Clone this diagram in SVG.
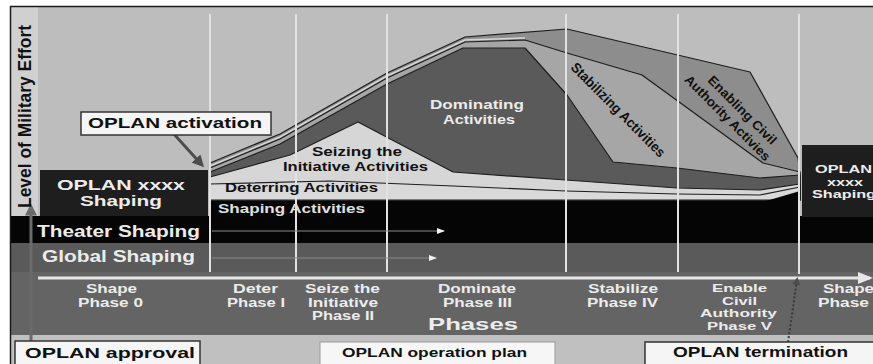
<svg xmlns="http://www.w3.org/2000/svg" width="873" height="364" viewBox="0 0 873 364">
<style>
.t{font-family:"Liberation Sans",Arial,sans-serif;font-weight:bold}
.w{fill:#ececec}
.k{fill:#111111}
.ph{font-size:12px}
.vl{stroke:#e2e2e2;stroke-width:2}
.ly{stroke:#1e1e1e;stroke-width:1.2;stroke-linejoin:round}
.box{fill:#f5f5f5;stroke:#333333;stroke-width:1.5}
</style>
<defs>
<marker id="ahd" markerWidth="4" markerHeight="4" refX="2.5" refY="2" orient="auto" markerUnits="strokeWidth"><path d="M0,0 L4,2 L0,4 z" fill="#4d4d4d"/></marker>
<marker id="ahg" markerWidth="4" markerHeight="4" refX="2.5" refY="2" orient="auto" markerUnits="strokeWidth"><path d="M0,0 L4,2 L0,4 z" fill="#6a6a6a"/></marker>
<marker id="ahw" markerWidth="8" markerHeight="6" refX="7" refY="3" orient="auto" markerUnits="userSpaceOnUse"><path d="M0,0 L8,3 L0,6 z" fill="#f2f2f2"/></marker>
<marker id="ahb" markerWidth="5" markerHeight="4" refX="4" refY="2" orient="auto" markerUnits="strokeWidth"><path d="M0,0 L5,2 L0,4 z" fill="#e6e6e6"/></marker>
</defs>

<!-- background -->
<rect x="0" y="0" width="873" height="364" fill="#ffffff"/>
<rect x="10" y="6" width="863" height="358" fill="#bdbdbd"/>
<rect x="11" y="7" width="27" height="209" fill="#d0d0d0"/>
<rect x="10" y="216" width="863" height="27" fill="#050505"/>
<rect x="10" y="243" width="863" height="29" fill="#5a5a5a"/>
<rect x="10" y="272" width="863" height="63" fill="#646464"/>
<rect x="10" y="335" width="863" height="29" fill="#c0c0c0"/>
<line x1="10" y1="6.5" x2="873" y2="6.5" stroke="#1a1a1a" stroke-width="1.5"/>
<line x1="10.5" y1="6" x2="10.5" y2="364" stroke="#1a1a1a" stroke-width="1.5"/>

<!-- chart layers -->
<g id="chart">
<polygon class="ly" fill="#8d8d8d" points="210,163 280,134 387,73 465,37 567,29 750,72 798,158 800,175 800,200 210,200"/>
<polyline fill="none" stroke="#d6d6d6" stroke-width="1.5" points="210,166 280,137 387,76 465,40 525,38"/>
<polygon class="ly" fill="#a6a6a6" points="210,168 280,139 387,78 465,42 525,40 567,53 642,75 763,163 800,172 800,200 210,200"/>
<polygon class="ly" fill="#5a5a5a" points="210,172 280,144 387,84 463,48 525,48 567,95 613,162 677,168 760,178 800,175 800,200 210,200"/>
<polygon class="ly" fill="#d6d6d6" points="210,177 290,155 358,122 453,172 566,180 677,188 760,190 800,184 800,200 210,200"/>
<polygon class="ly" fill="#d9d9d9" points="210,184 330,181 453,186 566,191 677,194 760,195 800,187 800,200 210,200"/>
<polygon fill="#050505" points="210,201 766,201 800,191 800,216 210,216"/>
</g>

<!-- vertical phase lines -->
<g id="phase-lines">
<line class="vl" x1="210" y1="14" x2="210" y2="272"/>
<line class="vl" x1="296" y1="14" x2="296" y2="272"/>
<line class="vl" x1="387" y1="14" x2="387" y2="272"/>
<line class="vl" x1="566" y1="14" x2="566" y2="272"/>
<line class="vl" x1="678" y1="14" x2="678" y2="272"/>
<line class="vl" x1="799" y1="14" x2="799" y2="274"/>
</g>

<!-- connectors -->
<g id="connectors">
<line x1="212" y1="231" x2="444" y2="231" stroke="#8a8a8a" stroke-width="1" marker-end="url(#ahw)"/>
<line x1="212" y1="258" x2="436" y2="258" stroke="#8a8a8a" stroke-width="1" marker-end="url(#ahw)"/>
<line x1="38" y1="278" x2="870" y2="278" stroke="#e6e6e6" stroke-width="3" marker-end="url(#ahb)"/>
<line x1="173" y1="133" x2="201" y2="164" stroke="#4d4d4d" stroke-width="3" marker-end="url(#ahd)"/>
<line x1="31" y1="343" x2="31" y2="208" stroke="#6a6a6a" stroke-width="3" marker-end="url(#ahg)"/>
<line x1="788" y1="342" x2="797" y2="280" stroke="#3a3a3a" stroke-width="2" stroke-dasharray="2,2" marker-end="url(#ahd)"/>
</g>

<!-- axis -->
<g id="axis-label">
<text class="t k" font-size="18" transform="translate(31,208) rotate(-90)" textLength="183" lengthAdjust="spacingAndGlyphs">Level of Military Effort</text>
</g>

<g id="oplan-activation">
<rect class="box" x="81" y="112" width="190" height="23"/>
<text class="t k" font-size="14" x="88" y="128" textLength="174" lengthAdjust="spacingAndGlyphs">OPLAN activation</text>
</g>

<g id="oplan-shaping-left">
<rect x="40" y="170" width="168" height="46" fill="#1e1e1e"/>
<text class="t w" font-size="14" x="57" y="190" textLength="128" lengthAdjust="spacingAndGlyphs">OPLAN xxxx</text>
<text class="t w" font-size="14" x="80" y="206" textLength="82" lengthAdjust="spacingAndGlyphs">Shaping</text>
</g>

<g id="oplan-shaping-right">
<rect x="802" y="145" width="71" height="72" fill="#1e1e1e"/>
<text class="t w" font-size="11" x="815" y="173" textLength="57" lengthAdjust="spacingAndGlyphs">OPLAN</text>
<text class="t w" font-size="11" x="827" y="185.5" textLength="36" lengthAdjust="spacingAndGlyphs">xxxx</text>
<text class="t w" font-size="11" x="812" y="198" textLength="64" lengthAdjust="spacingAndGlyphs">Shaping</text>
</g>

<g id="theater-shaping">
<text class="t w" font-size="16" x="37" y="237" textLength="163" lengthAdjust="spacingAndGlyphs">Theater Shaping</text>
</g>
<g id="global-shaping">
<text class="t w" font-size="16" x="42" y="262" textLength="153" lengthAdjust="spacingAndGlyphs">Global Shaping</text>
</g>

<g id="dominating">
<text class="t w" font-size="13" x="430" y="109" textLength="94" lengthAdjust="spacingAndGlyphs">Dominating</text>
<text class="t w" font-size="13" x="443" y="124" textLength="72" lengthAdjust="spacingAndGlyphs">Activities</text>
</g>
<g id="seizing">
<text class="t k" font-size="13" x="312" y="156" textLength="90" lengthAdjust="spacingAndGlyphs">Seizing the</text>
<text class="t k" font-size="13" x="283" y="171" textLength="145" lengthAdjust="spacingAndGlyphs">Initiative Activities</text>
</g>
<g id="deterring">
<text class="t k" font-size="13" x="225" y="192" textLength="153" lengthAdjust="spacingAndGlyphs">Deterring Activities</text>
</g>
<g id="shaping-activities">
<text class="t" fill="#e0e0e0" font-size="13" x="218" y="213" textLength="147" lengthAdjust="spacingAndGlyphs">Shaping Activities</text>
</g>
<g id="stabilizing">
<text class="t k" font-size="14" text-anchor="middle" transform="translate(618,110) rotate(45)" x="0" y="4.5" textLength="127" lengthAdjust="spacingAndGlyphs">Stabilizing Activities</text>
</g>
<g id="enabling">
<g transform="translate(735,114) rotate(45)">
<text class="t k" font-size="13" text-anchor="middle" x="2.5" y="-3.5" textLength="91" lengthAdjust="spacingAndGlyphs">Enabling Civil</text>
<text class="t k" font-size="13" text-anchor="middle" x="-2.5" y="12.5" textLength="115" lengthAdjust="spacingAndGlyphs">Authority Activies</text>
</g>
</g>

<!-- phase labels -->
<g id="phase-0">
<text class="t w ph" x="86" y="293" textLength="51" lengthAdjust="spacingAndGlyphs">Shape</text>
<text class="t w ph" x="78" y="307" textLength="65" lengthAdjust="spacingAndGlyphs">Phase 0</text>
</g>
<g id="phase-1">
<text class="t w ph" x="233" y="293" textLength="45" lengthAdjust="spacingAndGlyphs">Deter</text>
<text class="t w ph" x="227" y="307" textLength="58" lengthAdjust="spacingAndGlyphs">Phase I</text>
</g>
<g id="phase-2">
<text class="t w ph" x="305" y="293" textLength="75" lengthAdjust="spacingAndGlyphs">Seize the</text>
<text class="t w ph" x="308" y="306.5" textLength="70" lengthAdjust="spacingAndGlyphs">Initiative</text>
<text class="t w ph" x="312" y="320" textLength="62" lengthAdjust="spacingAndGlyphs">Phase II</text>
</g>
<g id="phase-3">
<text class="t w ph" x="438" y="293" textLength="78" lengthAdjust="spacingAndGlyphs">Dominate</text>
<text class="t w ph" x="443" y="307" textLength="69" lengthAdjust="spacingAndGlyphs">Phase III</text>
</g>
<g id="phases-title">
<text class="t w" font-size="17" x="428" y="330" textLength="90" lengthAdjust="spacingAndGlyphs">Phases</text>
</g>
<g id="phase-4">
<text class="t w ph" x="588" y="293" textLength="70" lengthAdjust="spacingAndGlyphs">Stabilize</text>
<text class="t w ph" x="587" y="307" textLength="71" lengthAdjust="spacingAndGlyphs">Phase IV</text>
</g>
<g id="phase-5">
<text class="t w" font-size="11" x="712" y="292" textLength="55" lengthAdjust="spacingAndGlyphs">Enable</text>
<text class="t w" font-size="11" x="722" y="304.5" textLength="35" lengthAdjust="spacingAndGlyphs">Civil</text>
<text class="t w" font-size="11" x="700" y="317" textLength="77" lengthAdjust="spacingAndGlyphs">Authority</text>
<text class="t w" font-size="11" x="707" y="330" textLength="65" lengthAdjust="spacingAndGlyphs">Phase V</text>
</g>
<g id="phase-0-next">
<text class="t w ph" x="823" y="293" textLength="51" lengthAdjust="spacingAndGlyphs">Shape</text>
<text class="t w ph" x="818" y="307" textLength="51" lengthAdjust="spacingAndGlyphs">Phase</text>
</g>

<!-- bottom boxes -->
<g id="oplan-approval">
<rect class="box" x="15" y="341" width="185" height="27"/>
<text class="t k" font-size="15" x="25" y="358" textLength="170" lengthAdjust="spacingAndGlyphs">OPLAN approval</text>
</g>
<g id="oplan-operation-plan">
<rect x="320" y="342" width="235" height="26" fill="#f6f6f6" stroke="#9a9a9a" stroke-width="1"/>
<text class="t k" font-size="13" x="342" y="357" textLength="185" lengthAdjust="spacingAndGlyphs">OPLAN operation plan</text>
</g>
<g id="oplan-termination">
<rect class="box" x="645" y="342" width="235" height="26"/>
<text class="t k" font-size="14" x="673" y="357" textLength="175" lengthAdjust="spacingAndGlyphs">OPLAN termination</text>
</g>
</svg>
